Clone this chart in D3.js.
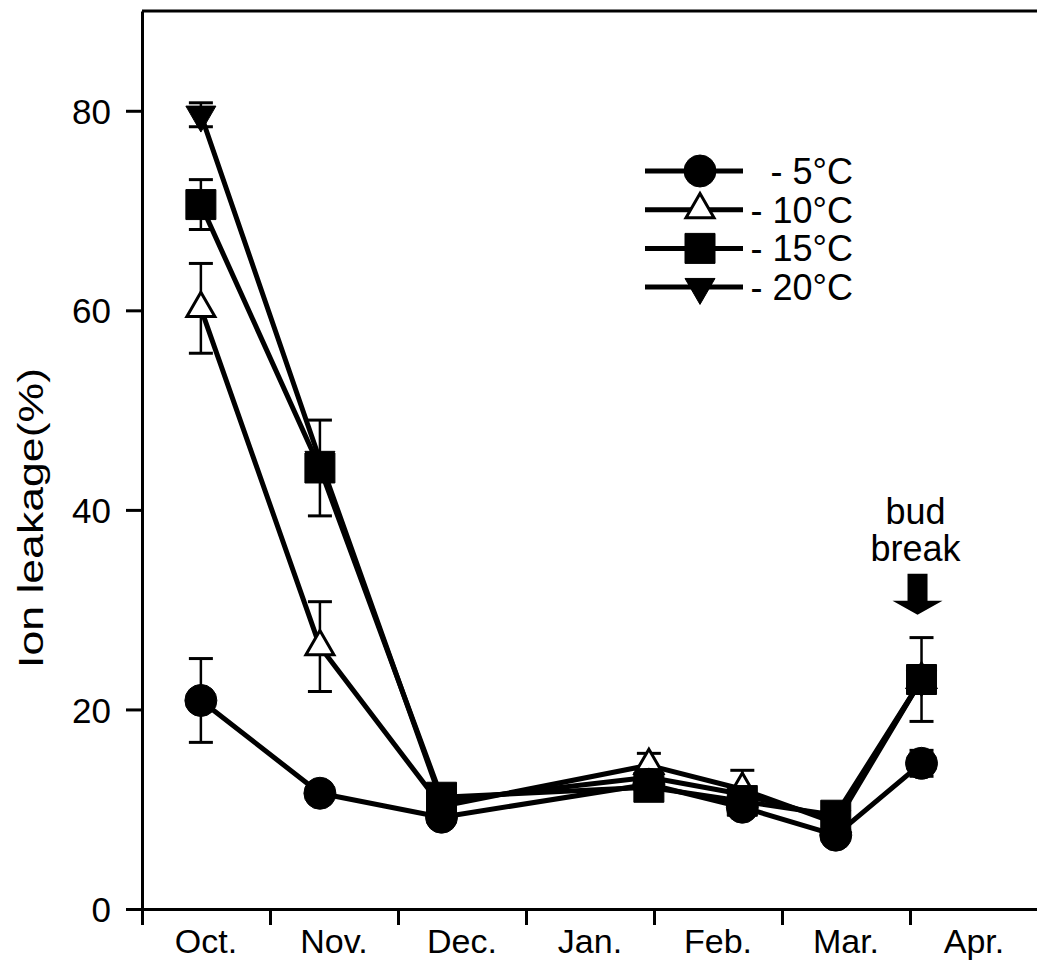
<!DOCTYPE html>
<html>
<head>
<meta charset="utf-8">
<script src="https://cdn.jsdelivr.net/npm/d3@7"></script>
<style>
  body { margin: 0; background: #fff; }
  text { font-family: "Liberation Sans", Arial, sans-serif; fill: #000; }
</style>
</head>
<body>
<div id="chart"></div>
<script>
// month labels sit between the month boundary ticks
const months = ["Oct.", "Nov.", "Dec.", "Jan.", "Feb.", "Mar.", "Apr."];
// sampling times in months from 1 Oct
const sampleTimes = [0.46, 1.39, 2.34, 3.96, 4.69, 5.42, 6.09];
const yTicks = [0, 20, 40, 60, 80];

const seriesNames = ["- 5°C", "- 10°C", "- 15°C", "- 20°C"];
const minus5 = [20.9, 11.6, 9.2, 12.5, 10.2, 7.4, 14.6];
const minus5Err = [4.2, 0, 0, 0, 0, 0, 1.3];
const minus10 = [60.2, 26.3, 10.3, 14.4, 12.0, 8.6, 23.0];
const minus10Err = [4.5, 4.5, 0, 1.2, 1.9, 0, 0];
const minus15 = [70.6, 44.2, 11.2, 12.2, 10.8, 9.4, 23.0];
const minus15Err = [2.5, 4.8, 0, 0, 0, 0, 4.2];
const minus20 = [79.6, 45.0, 10.8, 13.2, 11.5, 9.0, 23.0];
const minus20Err = [1.2, 0, 0, 0, 0, 0, 0];

const width = 1037, height = 962;

const svg = d3.select("#chart").append("svg")
    .attr("width", width)
    .attr("height", height);

const x = d3.scaleLinear().domain([0, 7]).range([142, 1038]);
const y = d3.scaleLinear().domain([0, 90]).range([909, 11]);

const markers = {
    circle: { type: d3.symbolCircle, size: Math.PI * 16 * 16, fill: "#000", rot: 0 },
    triangle: { type: d3.symbolTriangle, size: 28 * 28 * Math.sqrt(3) / 4, fill: "#fff", rot: 0 },
    square: { type: d3.symbolSquare, size: 30 * 30, fill: "#000", rot: 0 },
    down: { type: d3.symbolTriangle, size: 30 * 30 * Math.sqrt(3) / 4, fill: "#000", rot: 180 }
};

const series = [
    { name: seriesNames[0], values: minus5, err: minus5Err, marker: "circle" },
    { name: seriesNames[1], values: minus10, err: minus10Err, marker: "triangle" },
    { name: seriesNames[2], values: minus15, err: minus15Err, marker: "square" },
    { name: seriesNames[3], values: minus20, err: minus20Err, marker: "down" }
];
// drawing order (last on top)
const drawOrder = [1, 3, 0, 2];

// frame: top line
svg.append("line")
    .attr("x1", x(0)).attr("x2", width)
    .attr("y1", y(90)).attr("y2", y(90))
    .attr("stroke", "#000").attr("stroke-width", 3);

// y axis
const yAxis = svg.append("g")
    .attr("transform", `translate(${x(0)},0)`)
    .call(d3.axisLeft(y).tickValues(yTicks).tickSize(16).tickPadding(15).tickSizeOuter(0));
yAxis.select(".domain").attr("stroke-width", 3);
yAxis.selectAll(".tick line").attr("stroke-width", 3);
yAxis.selectAll(".tick text").style("font-size", "35px").attr("dy", "0.36em");

// x axis
const xAxis = svg.append("g")
    .attr("transform", `translate(0,${y(0)})`)
    .call(d3.axisBottom(x).tickValues(d3.range(0, 7)).tickSize(16).tickFormat("").tickSizeOuter(0));
xAxis.select(".domain").attr("stroke-width", 3);
xAxis.selectAll(".tick line").attr("stroke-width", 3);

svg.append("g").selectAll("text")
    .data(months)
    .join("text")
    .attr("x", (d, i) => x(i + 0.5))
    .attr("y", 953)
    .attr("text-anchor", "middle")
    .style("font-size", "34px")
    .text(d => d);

// y label
svg.append("text")
    .attr("transform", `translate(43,${(y(0) + y(90)) / 2 + 58}) rotate(-90)`)
    .attr("text-anchor", "middle")
    .attr("textLength", 300)
    .attr("lengthAdjust", "spacingAndGlyphs")
    .style("font-size", "35px")
    .text("Ion leakage(%)");

const line = d3.line()
    .x((d, i) => x(sampleTimes[i]))
    .y(d => y(d));

const symbolPath = m => d3.symbol().type(markers[m].type).size(markers[m].size)();

// lines
drawOrder.forEach(k => {
    const s = series[k];
    svg.append("path")
        .datum(s.values)
        .attr("d", line)
        .attr("fill", "none")
        .attr("stroke", "#000")
        .attr("stroke-width", 5)
        .attr("stroke-linejoin", "round");
});

// error bars
drawOrder.forEach(k => {
    const s = series[k];
    const bars = s.values.map((v, i) => ({ t: sampleTimes[i], v: v, e: s.err[i] })).filter(d => d.e > 0);
    const g = svg.append("g").attr("stroke", "#000");
    g.selectAll("line.stem").data(bars).join("line")
        .attr("x1", d => x(d.t)).attr("x2", d => x(d.t))
        .attr("y1", d => y(d.v - d.e)).attr("y2", d => y(d.v + d.e))
        .attr("stroke-width", 2.5);
    g.selectAll("line.capHi").data(bars).join("line")
        .attr("x1", d => x(d.t) - 12).attr("x2", d => x(d.t) + 12)
        .attr("y1", d => y(d.v + d.e)).attr("y2", d => y(d.v + d.e))
        .attr("stroke-width", 3);
    g.selectAll("line.capLo").data(bars).join("line")
        .attr("x1", d => x(d.t) - 12).attr("x2", d => x(d.t) + 12)
        .attr("y1", d => y(d.v - d.e)).attr("y2", d => y(d.v - d.e))
        .attr("stroke-width", 3);
});

// markers
drawOrder.forEach(k => {
    const s = series[k];
    const m = markers[s.marker];
    svg.append("g").selectAll("path")
        .data(s.values)
        .join("path")
        .attr("d", symbolPath(s.marker))
        .attr("transform", (d, i) => `translate(${x(sampleTimes[i])},${y(d)}) rotate(${m.rot})`)
        .attr("fill", m.fill)
        .attr("stroke", "#000")
        .attr("stroke-width", s.marker === "triangle" ? 3 : 1);
});

// legend
const legend = svg.append("g").attr("transform", "translate(645,171)");
series.forEach((s, i) => {
    const row = legend.append("g").attr("transform", `translate(0,${i * 38.7})`);
    const m = markers[s.marker];
    row.append("line")
        .attr("x1", 0).attr("x2", 98)
        .attr("stroke", "#000").attr("stroke-width", 5);
    row.append("path")
        .attr("d", symbolPath(s.marker))
        .attr("transform", `translate(55,0) rotate(${m.rot})`)
        .attr("fill", m.fill)
        .attr("stroke", "#000")
        .attr("stroke-width", s.marker === "triangle" ? 3 : 1);
    row.append("text")
        .attr("x", 208)
        .attr("y", 0)
        .attr("dy", "0.36em")
        .attr("text-anchor", "end")
        .style("font-size", "36px")
        .text(s.name);
});

// bud break annotation
const budX = x(sampleTimes[6]) - 4;
const budTip = y(29.5);
const ann = svg.append("g");
ann.append("text")
    .attr("x", budX - 2).attr("y", 524)
    .attr("text-anchor", "middle")
    .style("font-size", "36px")
    .text("bud");
ann.append("text")
    .attr("x", budX - 2).attr("y", 561)
    .attr("text-anchor", "middle")
    .style("font-size", "36px")
    .text("break");
ann.append("path")
    .attr("d", `M${budX - 10},${budTip - 41} h20 v27 h15 L${budX},${budTip} L${budX - 25},${budTip - 14} h15 Z`)
    .attr("fill", "#000");
</script>
</body>
</html>
